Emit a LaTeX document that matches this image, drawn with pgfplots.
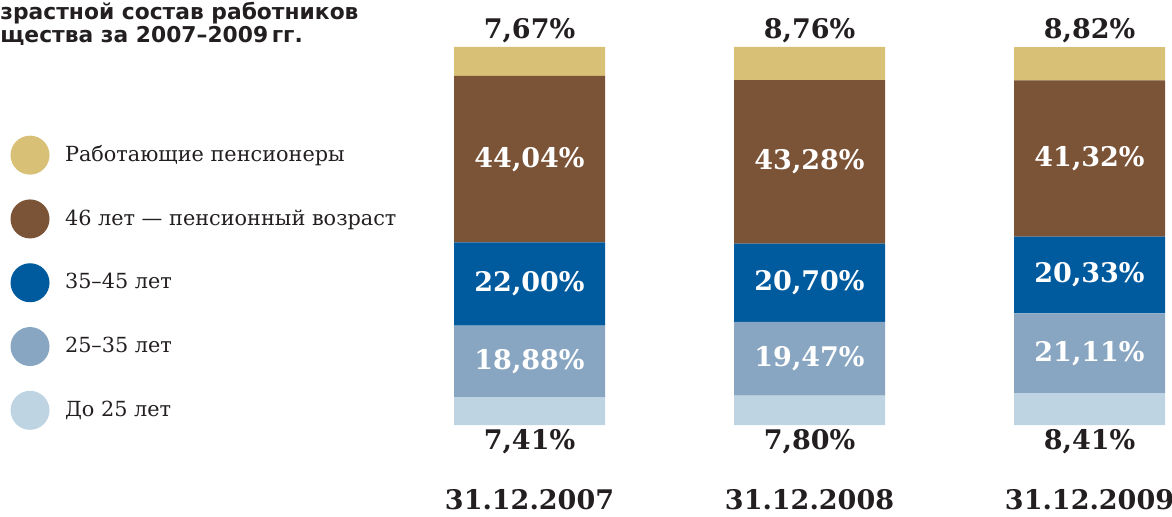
\documentclass[border=0pt]{standalone}
\usepackage{fontspec}
\setmainfont{DejaVu Serif}
\newfontfamily\titlefont{DejaVu Sans}
\usepackage{pgfplots}
\pgfplotsset{compat=1.18}
\usepackage{pgfplotstable}
\definecolor{cGold}{HTML}{D8C176}
\definecolor{cBrown}{HTML}{7B5336}
\definecolor{cBlue}{HTML}{005A9E}
\definecolor{cGray}{HTML}{88A6C1}
\definecolor{cLight}{HTML}{BED4E2}
\definecolor{cDark}{HTML}{231F20}
\newcommand\numfnt{\bfseries\fontsize{13.5}{16}\selectfont}
\pgfplotstableread{
x a b c d e
0 7.41 18.88 22.00 44.04 7.67
1 7.80 19.47 20.70 43.28 8.76
2 8.41 21.11 20.33 41.32 8.82
}\datatable
\pgfplotsset{
  lbl/.style={point meta=explicit,
    nodes near coords={\pgfmathprintnumber[fixed,fixed zerofill,precision=2,use comma,assume math mode=true]{\pgfplotspointmeta}\%},
    visualization depends on={\thisrow{#1}\as\rawy},
    every node near coord/.append style={font=\numfnt, anchor=center}},
}
\begin{document}
\begin{tikzpicture}
\begin{axis}[
  name=ax,
  scale only axis, width=586pt, height=258pt,
  xmin=-1.8911, xmax=2.2946, ymin=-24.07, ymax=112.43,
  clip=false,
  ybar stacked, bar width=75.5pt,
  axis line style={draw=none},
  ytick=\empty,
  xtick={0,1,2},
  xticklabels={31.12.2007,31.12.2008,31.12.2009},
  major tick length=0pt,
  xticklabel style={font=\numfnt, anchor=center, yshift=8pt, text=cDark},
  title={зрастной состав работников\\щества за 2007–2009\,гг.},
  title style={at={(rel axis cs:0,1)}, anchor=north west, inner sep=0pt, align=left,
    font=\titlefont\bfseries\fontsize{10.9}{11.5}\selectfont, text=cDark, yshift=-7pt},
  legend style={at={(axis cs:-1.8535,76.55)}, anchor=north west, draw=none, fill=none,
    inner sep=0pt, outer sep=0pt, row sep=12.4pt,
    font=\fontsize{10.4}{12}\selectfont, text=cDark,
    nodes={inner sep=0pt}, cells={anchor=west},
    /tikz/every odd column/.append style={column sep=7.75pt}},
  legend image code/.code={\fill[#1] (9.75pt,0pt) circle (9.75pt);},
]
\addlegendimage{fill=cGold, draw=none}
\addlegendentry{Работающие пенсионеры}
\addlegendimage{fill=cBrown, draw=none}
\addlegendentry{46 лет — пенсионный возраст}
\addlegendimage{fill=cBlue, draw=none}
\addlegendentry{35–45 лет}
\addlegendimage{fill=cGray, draw=none}
\addlegendentry{25–35 лет}
\addlegendimage{fill=cLight, draw=none}
\addlegendentry{До 25 лет}

\addplot[fill=cLight, draw=none, lbl=a,
  every node near coord/.append style={text=cDark, shift={(axis direction cs:0,-\rawy/2)}, yshift=-8.5pt}]
  table[x=x, y=a, meta=a] {\datatable};
\addplot[fill=cGray, draw=none, lbl=b,
  every node near coord/.append style={text=white}]
  table[x=x, y=b, meta=b] {\datatable};
\addplot[fill=cBlue, draw=none, lbl=c,
  every node near coord/.append style={text=white}]
  table[x=x, y=c, meta=c] {\datatable};
\addplot[fill=cBrown, draw=none, lbl=d,
  every node near coord/.append style={text=white}]
  table[x=x, y=d, meta=d] {\datatable};
\addplot[fill=cGold, draw=none, lbl=e,
  every node near coord/.append style={text=cDark, shift={(axis direction cs:0,\rawy/2)}, yshift=8pt}]
  table[x=x, y=e, meta=e] {\datatable};
\end{axis}
\pgfresetboundingbox
\path (ax.south west) rectangle (ax.north east);
\end{tikzpicture}
\end{document}
